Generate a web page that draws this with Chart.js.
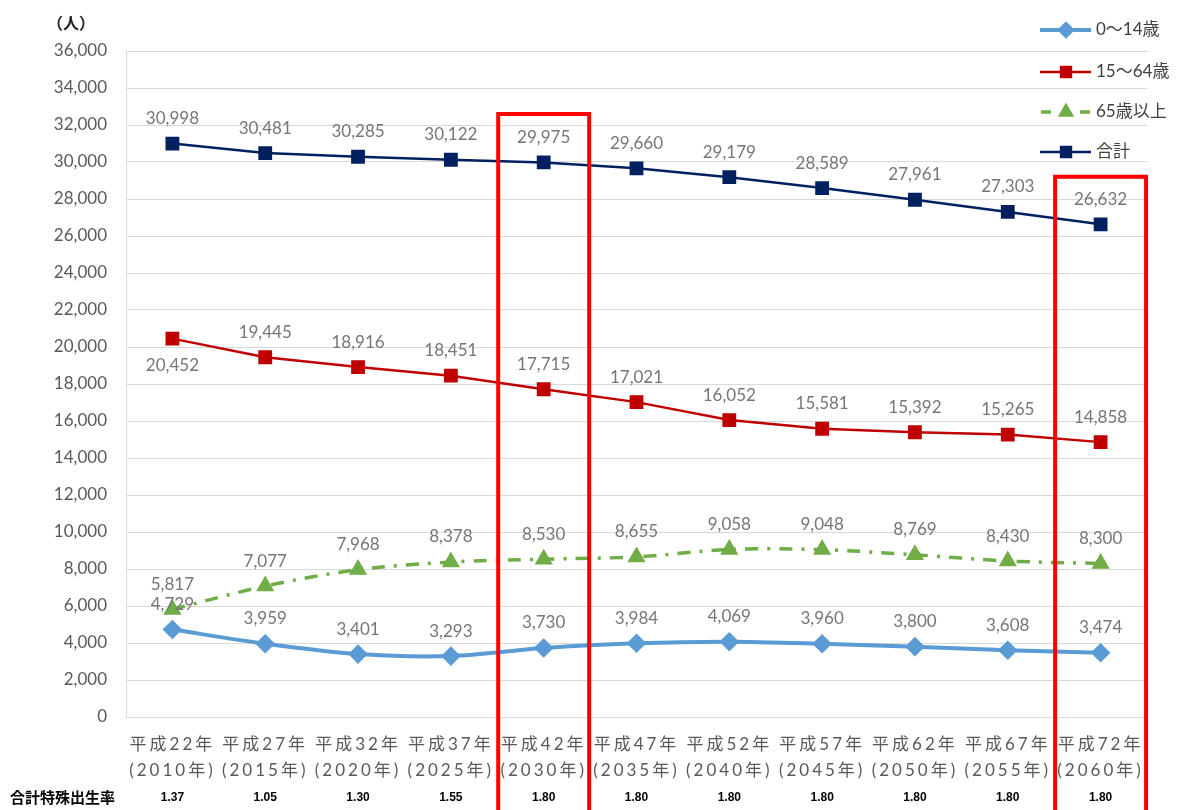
<!DOCTYPE html>
<html><head><meta charset="utf-8">
<script src="https://cdn.jsdelivr.net/npm/chart.js@4/dist/chart.umd.min.js"></script>
<style>html,body{margin:0;padding:0;background:#fff}#wrap{width:1178px;height:810px}</style>
</head><body><div id="wrap"><canvas id="c" width="1178" height="810"></canvas></div>
<script>
const categories = [
  ['平成22年','(2010年)'], ['平成27年','(2015年)'], ['平成32年','(2020年)'], ['平成37年','(2025年)'],
  ['平成42年','(2030年)'], ['平成47年','(2035年)'], ['平成52年','(2040年)'], ['平成57年','(2045年)'],
  ['平成62年','(2050年)'], ['平成67年','(2055年)'], ['平成72年','(2060年)']
];
const age0to14  = [4729, 3959, 3401, 3293, 3730, 3984, 4069, 3960, 3800, 3608, 3474];
const age15to64 = [20452, 19445, 18916, 18451, 17715, 17021, 16052, 15581, 15392, 15265, 14858];
const age65plus = [5817, 7077, 7968, 8378, 8530, 8655, 9058, 9048, 8769, 8430, 8300];
const total     = [30998, 30481, 30285, 30122, 29975, 29660, 29179, 28589, 27961, 27303, 26632];
const birthRateLabel = '合計特殊出生率';
const birthRates = ['1.37','1.05','1.30','1.55','1.80','1.80','1.80','1.80','1.80','1.80','1.80'];
const seriesNames = ['0～14歳', '15～64歳', '65歳以上', '合計'];
const yUnit = '（人）';
const yMin = 0, yMax = 36000, yStep = 2000;
const highlightIdx = [4, 10];
const highlightTop = [32600, 29200];

const LABEL_FONT = '17px Lato, "Noto Sans CJK JP"';

const customDraw = {
  id: 'customDraw',
  beforeDraw(chart) {
    const xs = chart.scales.x;
    if (!xs._lsPatched) {
      const orig = xs.drawLabels.bind(xs);
      xs.drawLabels = function(area) {
        const ctx = this.ctx;
        ctx.save();
        ctx.letterSpacing = '3px';
        orig(area);
        ctx.letterSpacing = '0px';
        ctx.restore();
      };
      xs._lsPatched = true;
    }
  },
  afterDatasetsDraw(chart) {
    const ctx = chart.ctx;
    ctx.save();
    ctx.font = LABEL_FONT;
    ctx.fillStyle = '#767676';
    ctx.textAlign = 'center';
    ctx.textBaseline = 'middle';
    chart.data.datasets.forEach((ds, di) => {
      const meta = chart.getDatasetMeta(di);
      meta.data.forEach((pt, i) => {
        let dy = -25;
        if (di === 1 && i === 0) dy = 27;
        ctx.fillText(ds.data[i].toLocaleString('en-US'), pt.x, pt.y + dy);
      });
    });
    ctx.restore();
  },
  afterDraw(chart) {
    const ctx = chart.ctx;
    const xs = chart.scales.x, ys = chart.scales.y;
    ctx.save();
    ctx.font = 'bold 16px "Noto Sans CJK JP"';
    ctx.fillStyle = '#222';
    ctx.textAlign = 'left';
    ctx.textBaseline = 'middle';
    ctx.fillText(yUnit, 47, 23);
    ctx.font = 'bold 15px "Noto Sans CJK JP"';
    ctx.fillStyle = '#000';
    ctx.fillText(birthRateLabel, 10, 797);
    ctx.font = 'bold 12px "Liberation Sans Narrow", "Liberation Sans"';
    ctx.textAlign = 'center';
    birthRates.forEach((r, i) => ctx.fillText(r, xs.getPixelForValue(i), 798));
    const band = (xs.getPixelForValue(1) - xs.getPixelForValue(0));
    ctx.strokeStyle = '#FF0000';
    ctx.lineWidth = 4;
    highlightIdx.forEach((idx, k) => {
      const cx = xs.getPixelForValue(idx);
      const top = ys.getPixelForValue(highlightTop[k]);
      const l = cx - band * 0.49, r = cx + band * 0.49;
      ctx.beginPath();
      ctx.moveTo(l, 812); ctx.lineTo(l, top); ctx.lineTo(r, top); ctx.lineTo(r, 812);
      ctx.stroke();
    });
    const ly = [30, 72, 112, 152];
    chart.data.datasets.forEach((ds, di) => {
      const y = ly[di];
      ctx.save();
      ctx.strokeStyle = ds.borderColor;
      ctx.lineWidth = ds.borderWidth;
      ctx.beginPath();
      if (di === 2) {
        ctx.moveTo(1041, y); ctx.lineTo(1051, y);
        ctx.moveTo(1080, y); ctx.lineTo(1090, y);
      } else {
        ctx.moveTo(1040, y); ctx.lineTo(1091, y);
      }
      ctx.stroke();
      ctx.fillStyle = ds.pointBackgroundColor;
      ctx.strokeStyle = ds.pointBackgroundColor;
      Chart.helpers.drawPoint(ctx, {pointStyle: ds.pointStyle, radius: ds.pointRadius - 1, rotation: 0, borderWidth: 1}, 1066, y);
      ctx.restore();
      ctx.font = LABEL_FONT;
      ctx.fillStyle = '#404040';
      ctx.textAlign = 'left';
      ctx.textBaseline = 'middle';
      ctx.fillText(ds.label, 1096, y);
    });
    ctx.restore();
  }
};

new Chart(document.getElementById('c'), {
  type: 'line',
  data: {
    labels: categories,
    datasets: [
      { label: seriesNames[0], data: age0to14, borderColor: '#5B9BD5', backgroundColor: '#5B9BD5',
        pointBackgroundColor: '#5B9BD5', pointBorderColor: '#5B9BD5', borderWidth: 4,
        pointStyle: 'rectRot', pointRadius: 7, tension: 0.3 },
      { label: seriesNames[1], data: age15to64, borderColor: '#C00000', backgroundColor: '#C00000',
        pointBackgroundColor: '#C00000', pointBorderColor: '#C00000', borderWidth: 2.5,
        pointStyle: 'rect', pointRadius: 8, tension: 0 },
      { label: seriesNames[2], data: age65plus, borderColor: '#70AD47', backgroundColor: '#70AD47',
        pointBackgroundColor: '#70AD47', pointBorderColor: '#70AD47', borderWidth: 3.5,
        borderDash: [13, 9, 3, 9], pointStyle: 'triangle', pointRadius: 7, tension: 0.3 },
      { label: seriesNames[3], data: total, borderColor: '#002060', backgroundColor: '#002060',
        pointBackgroundColor: '#002060', pointBorderColor: '#002060', borderWidth: 2.5,
        pointStyle: 'rect', pointRadius: 8, tension: 0 }
    ]
  },
  options: {
    responsive: false,
    animation: false,
    devicePixelRatio: 1,
    layout: { padding: { top: 51, right: 31, left: 0, bottom: 0 } },
    plugins: { legend: { display: false }, tooltip: { enabled: false } },
    scales: {
      x: {
        offset: true,
        grid: { display: false, drawTicks: false },
        border: { display: true, color: '#D9D9D9', width: 1 },
        ticks: { autoSkip: false, maxRotation: 0, minRotation: 0, padding: 14, color: '#595959',
          font: { family: 'Lato, "Noto Sans CJK JP"', size: 17, lineHeight: 1.55 } },
        afterFit(s) { s.height = 93; }
      },
      y: {
        min: yMin, max: yMax,
        grid: { color: '#D9D9D9', drawTicks: false },
        border: { display: true, color: '#D9D9D9', width: 1 },
        ticks: { stepSize: yStep, padding: 19, color: '#595959',
          font: { family: 'Lato', size: 17 },
          callback: v => v.toLocaleString('en-US') },
        afterFit(s) { s.width = 126; }
      }
    }
  },
  plugins: [customDraw]
});
</script></body></html>
